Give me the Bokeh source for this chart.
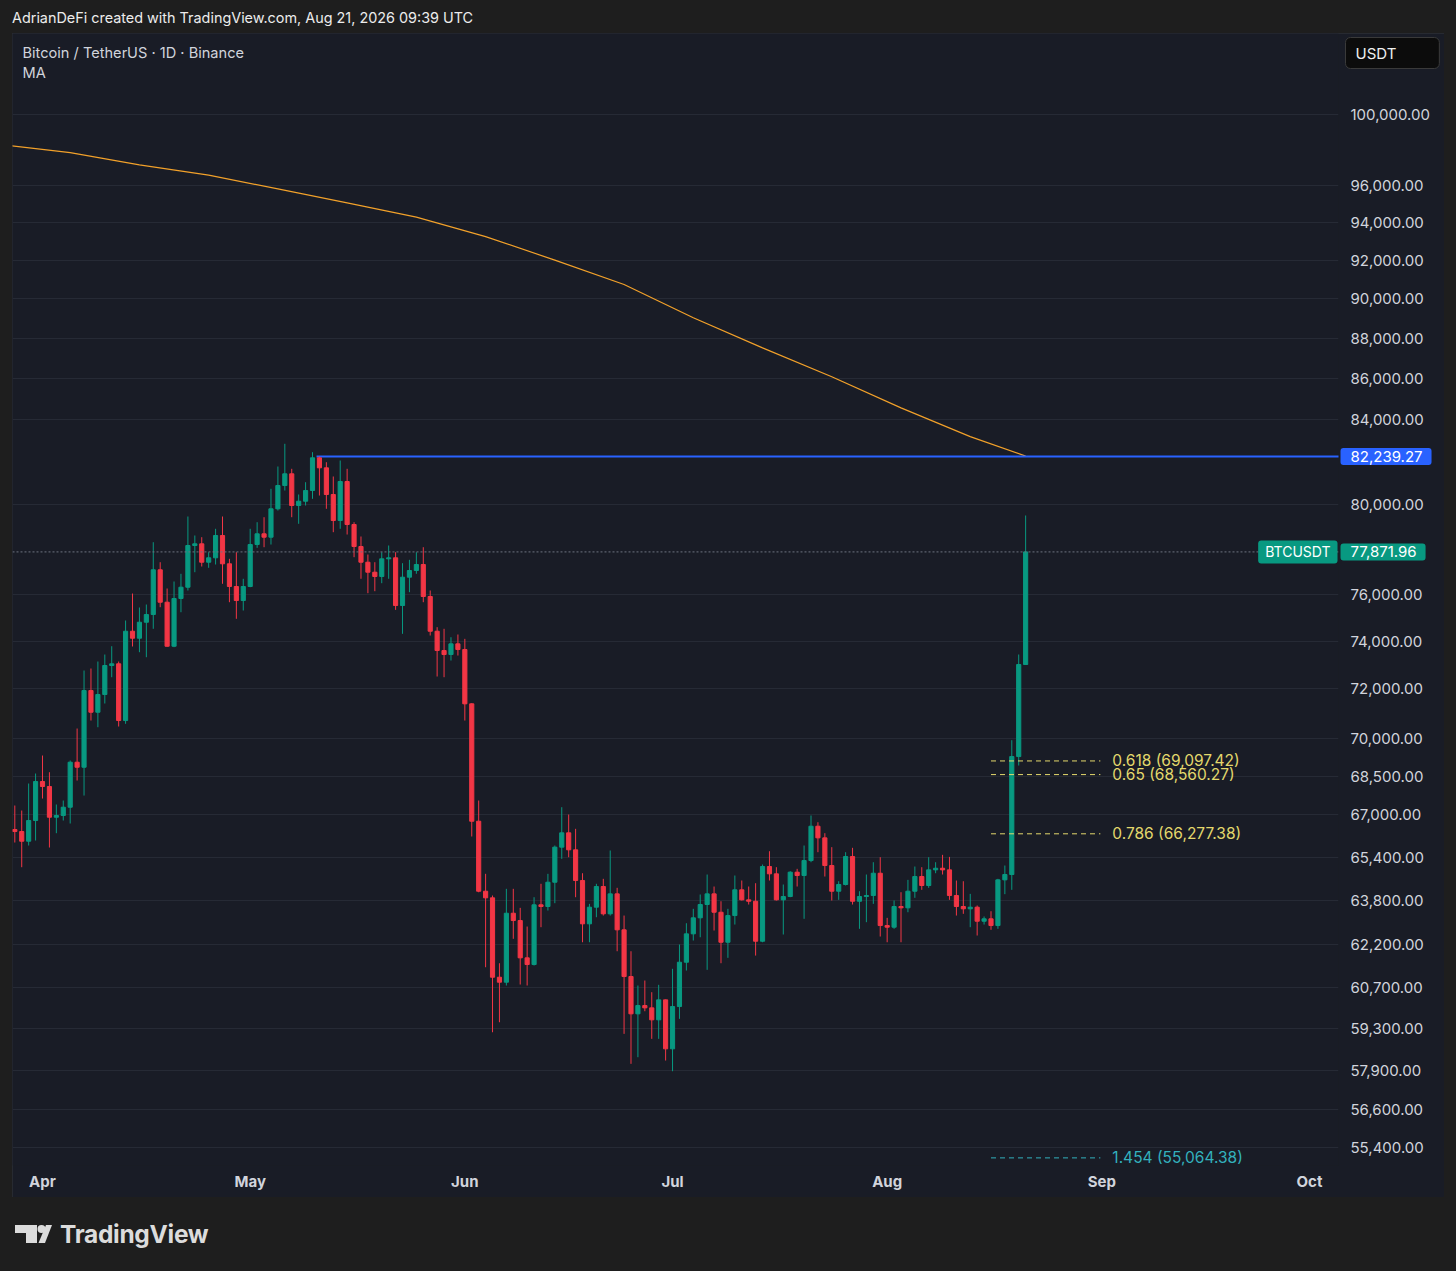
import pandas as pd
from bokeh.plotting import figure
from bokeh.models import (Range1d, FixedTicker, NumeralTickFormatter, DatetimeTickFormatter,
                          Label, Span, Div, ColumnDataSource)
from bokeh.layouts import column, row
from bokeh.embed import file_html
from bokeh.resources import INLINE

# ---------------- data ----------------
first_day = "2026-03-28"

open_ = [66440, 66364, 65997, 66783,
         68289, 68094, 66909, 66975, 67293, 69047, 68850, 71937, 71050, 71773, 72974, 73044, 70713, 74419, 74122,
         74803, 75133, 77079, 75664, 73783, 75824, 76316, 78158, 78233, 77415, 77610, 78606, 77344, 76347, 75737,
         76347, 78202, 78683, 78530, 79816, 80886, 81430, 79966, 80163, 80655, 82178, 81709, 80471, 79283, 81072,
         79102, 78113, 77415, 76973, 76785, 77565, 77610, 75521, 76754, 77048, 77313, 75911, 74419, 73602, 73434, 73884,
         73644, 71392, 66756, 64136, 63895, 61058, 60884, 63334, 63070, 61739, 61503, 63640, 63578, 64467, 65773,
         66315, 65673, 64530, 62951, 63553, 64309, 63312, 64040, 62736, 61082, 59793, 60077, 59998, 59588, 60273,
         58608, 60043, 61584, 62592, 63168, 63651, 64040, 63370, 62292, 63250, 64188, 63821, 63770, 62328, 65049,
         64778, 63821, 63942, 64838, 64715, 65272, 66565, 66124, 65086, 64136, 64383, 65421, 63770, 63942, 63979, 64800,
         62890, 62830, 63578, 63530, 64136, 64678, 64346, 64925, 64985, 64925, 63979, 63578, 63494, 63553, 63045,
         63132, 62890, 64555, 64752, 69271, 73015]

high = [67358, 67166, 68211, 68602,
        69312, 68653, 67397, 67551, 69114, 70391, 72765, 72848, 73140, 73434, 73783, 73140, 74876, 76041, 75435,
        75564, 78305, 77415, 76259, 76565, 76903, 79465, 78606, 78530, 77859, 78908, 79465, 77565, 77859, 76684,
        78908, 79206, 79433, 80734, 81770, 82839, 81663, 80471, 81039, 82442, 82239.27, 81971, 81304, 82051, 81663,
        79206, 78561, 77756, 77415, 77859, 78158, 77859, 77371, 77521, 77859, 78082, 76172, 74591, 74522, 74164, 74279,
        74095, 71417, 67551, 64778, 63979, 61548, 64224, 64224, 63530, 62854, 63917, 64409, 64778, 65835, 67293,
        67012, 66466, 64800, 63674, 64409, 64592, 65647, 64261, 63250, 61972, 60769, 60943, 60537, 60793, 60284,
        61352, 62211, 62973, 63494, 64016, 64752, 64309, 63770, 63494, 64715, 64530, 64309, 64431, 65123, 65621,
        65024, 64383, 64875, 64962, 65835, 66975, 66718, 66300, 65773, 64504, 65584, 65748, 64136, 64752, 65209, 65396,
        63167, 63796, 64100, 64555, 65049, 65024, 65396, 65209, 65485, 65408, 64530, 64504, 64040, 63614, 63216,
        63407, 64592, 65086, 69922, 73434, 79511]

low = [65948, 65023, 65835, 66023,
       67628, 65760, 66300, 66783, 66669, 68328, 67744, 70713, 70443, 71405, 72487, 70471, 70580, 73771, 73531,
       73321, 74522, 75448, 73760, 73743, 75232, 76172, 76973, 77225, 77167, 77313, 76465, 75664, 74949, 75305,
       76316, 78054, 78082, 78202, 79738, 80655, 79433, 79134, 79966, 80273, 80425, 79816, 78755, 78908, 78651,
       77637, 76684, 76055, 76142, 76491, 76684, 75334, 74309, 76099, 76903, 75664, 74237, 72516, 72487, 73182, 73392,
       70713, 66175, 64098, 61408, 59166, 59506, 60769, 62414, 60804, 60769, 61468, 62830, 63432, 63698, 65336,
       65396, 63917, 62292, 62292, 63190, 63250, 63250, 61972, 59112, 58107, 58328, 59882, 58944, 58944, 58217,
       57862, 59622, 61292, 62353, 62470, 61317, 62711, 61549, 61739, 62926, 63796, 63650, 61819, 62292, 64530,
       63796, 62568, 63917, 64309, 63132, 65209, 65584, 64678, 63796, 63821, 64346, 63650, 62772, 63010, 63674, 62496,
       62292, 62772, 62292, 63370, 63895, 64188, 64261, 64800, 64752, 63821, 63250, 63312, 62830, 62532, 62926,
       62736, 62772, 64028, 64188, 68917, 73015]

close = [66364, 65997, 66783, 68289,
         68094, 66909, 66975, 67293, 69047, 68850, 71937, 71050, 71773, 72974, 73044, 70713, 74419, 74122, 74803,
         75133, 77079, 75664, 73783, 75824, 76316, 78158, 78233, 77415, 77610, 78606, 77344, 76347, 75737, 76347,
         78202, 78683, 78530, 79816, 80886, 81430, 79966, 80163, 80655, 82178, 81709, 80471, 79283, 81072, 79102,
         78113, 77415, 76973, 76785, 77565, 77610, 75521, 76754, 77048, 77313, 75911, 74419, 73602, 73434, 73884, 73644,
         71392, 66756, 64136, 63895, 61058, 60884, 63334, 63070, 61739, 61503, 63640, 63578, 64467, 65773, 66315,
         65673, 64530, 62951, 63553, 64309, 63312, 64040, 62736, 61082, 59793, 60077, 59998, 59588, 60273, 58608,
         60043, 61584, 62592, 63168, 63651, 64040, 63370, 62292, 63250, 64188, 63821, 63770, 62328, 65049, 64778,
         63821, 63942, 64838, 64715, 65272, 66565, 66124, 65086, 64136, 64383, 65421, 63770, 63942, 63979, 64800, 62890,
         62830, 63578, 63530, 64136, 64678, 64346, 64925, 64985, 64925, 63979, 63578, 63494, 63553, 63045, 63132,
         62890, 64555, 64752, 69271, 73015, 77871.96]

ma_dates = ["2026-03-27", "2026-04-05", "2026-04-15", "2026-04-25", "2026-05-05", "2026-05-15", "2026-05-25",
            "2026-06-04", "2026-06-14", "2026-06-24", "2026-07-04", "2026-07-14", "2026-07-24", "2026-08-03",
            "2026-08-13", "2026-08-21"]
ma_values = [98250, 97850, 97170, 96594, 95840, 95075, 94307, 93261, 92015, 90740, 89033, 87509, 86079, 84557,
             83181, 82260]

fib_levels = ["0.618", "0.65", "0.786", "1.454"]
fib_prices = [69097.42, 68560.27, 66277.38, 55064.38]
fib_start = "2026-08-16"
fib_end = "2026-08-31 19:00"

resistance = 82239.27
resistance_start = "2026-05-10 14:00"
last_price = 77871.96

price_ticks = [100000, 96000, 94000, 92000, 90000, 88000, 86000, 84000, 80000, 76000, 74000, 72000, 70000,
               68500, 67000, 65400, 63800, 62200, 60700, 59300, 57900, 56600, 55400]
month_ticks = ["2026-04-01", "2026-05-01", "2026-06-01", "2026-07-01", "2026-08-01", "2026-09-01", "2026-10-01"]

# ---------------- styling ----------------
BG = "#191c26"
OUTER = "#1e1e1e"
GRID = "#262a35"
TXT = "#d1d4dc"
UP = "#089981"
DOWN = "#f23645"
FIB_COLORS = ["#e3d86c", "#e3d86c", "#e3d86c", "#33b1bd"]
FONT = "Inter"
AXIS_W = 106


def ms(s):
    return pd.Timestamp(s).value / 1e6


DAY = 86400000.0
apr1 = ms("2026-04-01")
x_start = apr1 - 4.333 * DAY
x_end = apr1 + 187.19 * DAY
y_range = Range1d(54825, 104748)

dates = [ms(d) for d in pd.date_range(first_day, periods=len(close), freq="D")]
src = ColumnDataSource(dict(
    date=dates, open=open_, high=high, low=low, close=close,
    top=[max(o, c) for o, c in zip(open_, close)],
    bottom=[min(o, c) for o, c in zip(open_, close)],
    color=[UP if c >= o else DOWN for o, c in zip(open_, close)],
))

p = figure(width=1432, height=1164, x_axis_type="datetime", y_axis_type="log",
           y_axis_location="right", output_backend="svg", toolbar_location=None,
           x_range=Range1d(x_start, x_end), y_range=y_range,
           min_border_left=0, min_border_top=0, min_border_right=AXIS_W, min_border_bottom=32,
           background_fill_color=BG, border_fill_color=BG, outline_line_color=None,
           margin=(0, 0, 0, 4),
           styles={"outline": "1px solid #2c2f36", "outline-offset": "-1px"})

p.xgrid.grid_line_color = None
p.ygrid.grid_line_color = GRID
p.ygrid.grid_line_width = 1

ya = p.yaxis[0]
ya.ticker = FixedTicker(ticks=price_ticks, minor_ticks=[])
ya.formatter = NumeralTickFormatter(format="0,0.00")
ya.axis_line_color = None
ya.major_tick_line_color = None
ya.minor_tick_line_color = None
ya.major_label_standoff = 6
ya.major_label_text_color = TXT
ya.major_label_text_font = FONT
ya.major_label_text_font_size = "15px"

xa = p.xaxis[0]
xa.ticker = FixedTicker(ticks=[ms(m) for m in month_ticks], minor_ticks=[])
xa.formatter = DatetimeTickFormatter(milliseconds="%b", seconds="%b", minsec="%b", minutes="%b",
                                     hourmin="%b", hours="%b", days="%b", months="%b", years="%b")
xa.axis_line_color = None
xa.major_tick_line_color = None
xa.minor_tick_line_color = None
xa.major_tick_out = 0
xa.major_tick_in = 0
xa.major_label_standoff = 6
xa.major_label_text_color = TXT
xa.major_label_text_font = FONT
xa.major_label_text_font_size = "15px"
xa.major_label_text_font_style = "bold"

# last price dotted line
p.add_layout(Span(location=last_price, dimension="width", line_color="#6f7480",
                  line_dash="2 2", line_width=1))

# MA line
p.line([ms(d) for d in ma_dates], ma_values, line_color="#f2a12a", line_width=1.2)

# resistance line
p.segment(x0=[ms(resistance_start)], y0=[resistance], x1=[ms("2026-12-31")], y1=[resistance],
          line_color="#2962ff", line_width=2)

# candles
p.segment(x0="date", y0="high", x1="date", y1="low", line_color="color", line_width=1, source=src)
p.vbar(x="date", width=0.6 * DAY, top="top", bottom="bottom", fill_color="color",
       line_color="color", line_width=1, source=src)

# fib levels
p.segment(x0=[ms(fib_start)] * 4, x1=[ms(fib_end)] * 4, y0=fib_prices, y1=fib_prices,
          line_color=FIB_COLORS, line_width=1, line_dash="5 4")
for lvl, price, col in zip(fib_levels, fib_prices, FIB_COLORS):
    p.add_layout(Label(x=ms(fib_end), y=price, x_offset=12, text=f"{lvl} ({price:,.2f})",
                       text_baseline="middle", text_align="left", text_color=col,
                       text_font=FONT, text_font_size="15.5px"))

# header texts in the pane
p.add_layout(Label(x=x_start, y=y_range.end, x_offset=10, y_offset=-19,
                   text="Bitcoin / TetherUS · 1D · Binance", text_baseline="middle",
                   text_color=TXT, text_font=FONT, text_font_size="14.6px"))
p.add_layout(Label(x=x_start, y=y_range.end, x_offset=10, y_offset=-39, text="MA",
                   text_baseline="middle", text_color=TXT, text_font=FONT, text_font_size="14.6px"))

# symbol tag (inside the pane)
p.add_layout(Label(x=x_end, y=last_price, x_offset=-1, text="BTCUSDT",
                   text_baseline="middle", text_align="right", text_color="#ffffff",
                   text_font=FONT, text_font_size="14px", background_fill_color=UP,
                   padding=dict(left=7, right=7, top=3, bottom=3), border_radius=3))

# ---- transparent overlay above the price scale, sharing its log y scale ----
tags = figure(width=AXIS_W, height=1164, y_axis_type="log", x_range=Range1d(0, AXIS_W),
              y_range=y_range, x_axis_location=None, y_axis_location=None,
              output_backend="svg", toolbar_location=None,
              min_border_left=0, min_border_right=0, min_border_top=0, min_border_bottom=32,
              background_fill_alpha=0, border_fill_alpha=0, outline_line_color=None,
              margin=(0, 0, 0, -AXIS_W))
tags.xgrid.visible = False
tags.ygrid.visible = False

tags.add_layout(Label(x=7, y=y_range.end, y_offset=-19.5, text="USDT",
                      text_baseline="middle", text_align="left", text_color="#f0f0f0",
                      text_font=FONT, text_font_size="15px",
                      background_fill_color="#0c0c0c", border_line_color="#3a3a3a",
                      padding=dict(left=10, right=43, top=6, bottom=6), border_radius=5))
tags.add_layout(Label(x=2, y=resistance, text=f"{resistance:,.2f}",
                      text_baseline="middle", text_align="left", text_color="#ffffff",
                      text_font=FONT, text_font_size="15px", background_fill_color="#2962ff",
                      padding=dict(left=10, right=9, top=3, bottom=3), border_radius=3))
tags.add_layout(Label(x=2, y=last_price, text=f"{last_price:,.2f}",
                      text_baseline="middle", text_align="left", text_color="#ffffff",
                      text_font=FONT, text_font_size="15px", background_fill_color=UP,
                      padding=dict(left=10, right=9, top=3, bottom=3), border_radius=3))

header = Div(text='<div style="font-family:Inter,sans-serif;font-size:14.4px;font-weight:400;'
                  'color:#ececec;line-height:20px;white-space:nowrap;">'
                  'AdrianDeFi created with TradingView.com, Aug 21, 2026 09:39 UTC</div>',
             width=1432, height=25, margin=(0, 0, 0, 4))

logo_svg = ('<svg width="37" height="18" viewBox="0 0 37 18" style="display:block">'
            '<path d="M0 0H22V18H11V8H0Z" fill="#dcdcdc"/>'
            '<circle cx="26.5" cy="4" r="4" fill="#dcdcdc"/>'
            '<path d="M31 0H37L30 18H23.5Z" fill="#dcdcdc"/></svg>')
footer = Div(text='<div style="display:flex;align-items:center;height:58px;margin-top:8px;padding-left:3px;">'
                  + logo_svg +
                  '<span style="margin-left:8px;font-family:Inter,sans-serif;font-weight:700;'
                  'font-size:24.5px;letter-spacing:-0.3px;color:#dcdcdc;">TradingView</span></div>',
             width=1432, height=66, margin=(0, 0, 0, 4))

layout = column(header, row(p, tags, spacing=0), footer, spacing=0)

html = file_html(layout, INLINE)
html = html.replace("</head>", "<style>html,body{background:%s;margin:0;}body{margin:8px;}</style></head>" % OUTER, 1)
open("out.html", "w").write(html)
